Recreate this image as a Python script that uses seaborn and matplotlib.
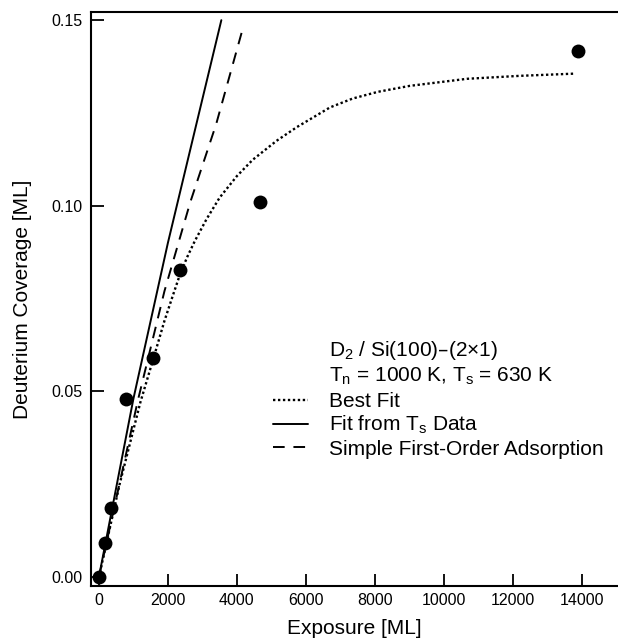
import numpy as np
import pandas as pd
import matplotlib
matplotlib.use("Agg")
import matplotlib.pyplot as plt
import seaborn as sns

# measured coverage points
exposure = [0, 174, 348, 783, 1565, 2348, 4667, 13884]
coverage = [0.0, 0.0091, 0.0186, 0.0481, 0.0589, 0.0828, 0.1011, 0.1418]

# best fit curve
best_x = [0, 600, 1200, 1600, 1900, 2150, 2350, 2560, 2780, 3120, 3500, 4000,
          4460, 5150, 5740, 6700, 7360, 8090, 9010, 10670, 12200, 13800]
best_y = [0.0, 0.025, 0.047, 0.0595, 0.0690, 0.0760, 0.0815, 0.0862, 0.0905,
          0.0964, 0.1022, 0.1080, 0.1124, 0.1175, 0.1212, 0.1265, 0.1289,
          0.1307, 0.1323, 0.1342, 0.1350, 0.1356]

# fit from Ts data
ts_x = [0, 1000, 2000, 2800, 3550]
ts_y = [0.0, 0.048, 0.090, 0.121, 0.150]

# simple first-order adsorption
fo_x = [0, 1130, 1900, 2650, 3400, 4170]
fo_y = [0.0, 0.0476, 0.077, 0.101, 0.122, 0.1477]

xticks = [0, 2000, 4000, 6000, 8000, 10000, 12000, 14000]
yticks = [0.00, 0.05, 0.10, 0.15]

sns.set_theme(style="ticks")
plt.rcParams["font.family"] = ["Liberation Sans", "DejaVu Sans"]
plt.rcParams["mathtext.default"] = "regular"
plt.rcParams["axes.edgecolor"] = "black"
plt.rcParams["xtick.color"] = "black"
plt.rcParams["ytick.color"] = "black"
plt.rcParams["axes.labelcolor"] = "black"
plt.rcParams["text.color"] = "black"

fig = plt.figure(figsize=(6.18, 6.41), dpi=100)
ax = fig.add_axes([0.1472, 0.0858, 0.8528, 0.8955])

best = pd.DataFrame({"x": best_x, "y": best_y})
ts = pd.DataFrame({"x": ts_x, "y": ts_y})
fo = pd.DataFrame({"x": fo_x, "y": fo_y})
pts = pd.DataFrame({"x": exposure, "y": coverage})

sns.lineplot(data=best, x="x", y="y", ax=ax, sort=False, estimator=None,
             color="black", lw=1.7, label="Best Fit")
ax.lines[-1].set_dashes((1.0, 1.1))
sns.lineplot(data=ts, x="x", y="y", ax=ax, sort=False, estimator=None,
             color="black", lw=1.4, label="Fit from T$_s$ Data")
sns.lineplot(data=fo, x="x", y="y", ax=ax, sort=False, estimator=None,
             color="black", lw=1.4, label="Simple First-Order Adsorption")
ax.lines[-1].set_dashes((6, 4.5))
sns.scatterplot(data=pts, x="x", y="y", ax=ax, color="black", s=100,
                edgecolor="black", linewidth=0, zorder=5)

ax.set_xlim(-230, 15050)
ax.set_ylim(-0.0024, 0.1522)
ax.set_xticks(xticks)
ax.set_yticks(yticks)
ax.set_yticklabels([f"{v:.2f}" for v in yticks])
ax.tick_params(direction="in", length=9, width=1.3, labelsize=11.5, pad=6)
ax.tick_params(axis="x", pad=5)

for side in ["left", "bottom", "top"]:
    ax.spines[side].set_linewidth(1.5)
ax.spines["right"].set_visible(False)

ax.set_xlabel("Exposure [ML]", fontsize=15, labelpad=8)
ax.set_ylabel("Deuterium Coverage [ML]", fontsize=15, labelpad=14)

ax.text(0.4516, 0.4007, "D$_2$ / Si(100)–(2×1)", transform=ax.transAxes,
        fontsize=15, va="baseline", ha="left")
ax.text(0.4516, 0.3554, "T$_n$ = 1000 K, T$_s$ = 630 K", transform=ax.transAxes,
        fontsize=15, va="baseline", ha="left")

ax.legend(loc="upper left", bbox_to_anchor=(0.3454, 0.338), frameon=False,
          fontsize=15, handlelength=1.7, handletextpad=1.0, borderpad=0,
          borderaxespad=0, labelspacing=0.15)

fig.savefig("out.png", dpi=100)
